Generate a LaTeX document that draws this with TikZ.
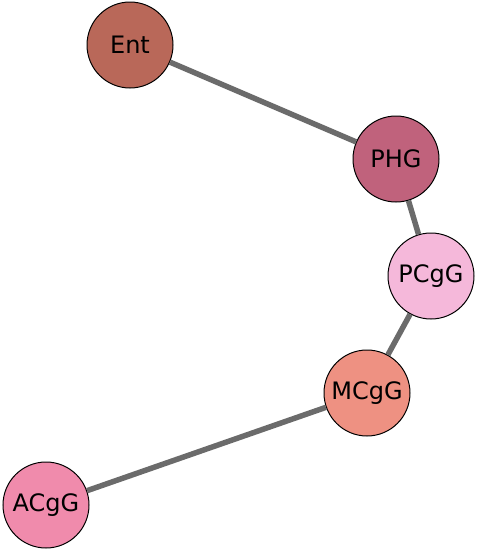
\documentclass[tikz,border=0pt]{standalone}
\usepackage{fontspec}
\setmainfont{DejaVu Sans}
\usetikzlibrary{positioning}

\definecolor{entcol}{HTML}{B96859}
\definecolor{phgcol}{HTML}{C0627C}
\definecolor{pcgcol}{HTML}{F5B8DA}
\definecolor{mcgcol}{HTML}{EE9182}
\definecolor{acgcol}{HTML}{F08BAC}
\definecolor{edgecol}{HTML}{6B6B6B}

\begin{document}
\begin{tikzpicture}[
  x=1pt, y=-1pt,
  region/.style={draw=black, circle, line width=1pt, minimum size=86pt,
                 inner sep=0pt, font=\fontsize{24}{24}\selectfont},
  link/.style={draw=edgecol, line width=5.5pt}
]
  \useasboundingbox (0,0) rectangle (477,552);

  \node[region, fill=entcol] (ent)  at (130, 45)  {Ent};
  \node[region, fill=phgcol] (phg)  at (396, 159) {PHG};
  \node[region, fill=pcgcol] (pcgg) at (431, 276) {PCgG};
  \node[region, fill=mcgcol] (mcgg) at (367, 393) {MCgG};
  \node[region, fill=acgcol] (acgg) at (46, 505)  {ACgG};

  \draw[link] (ent) -- (phg);
  \draw[link] (phg) -- (pcgg);
  \draw[link] (pcgg) -- (mcgg);
  \draw[link] (mcgg) -- (acgg);
\end{tikzpicture}
\end{document}
